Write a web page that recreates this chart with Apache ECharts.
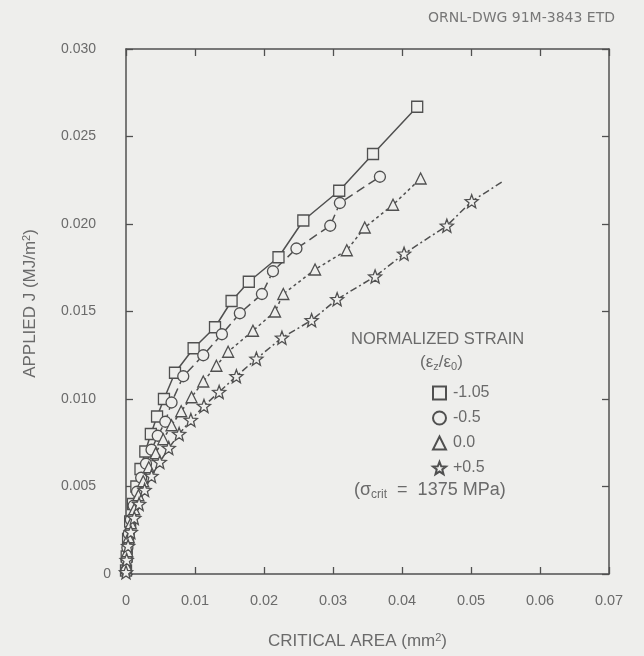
<!DOCTYPE html>
<html>
<head>
<meta charset="utf-8">
<script src="https://cdn.jsdelivr.net/npm/echarts@6/dist/echarts.min.js"></script>
<style>html,body{margin:0;padding:0;background:#eeeeec;}#c{width:644px;height:656px;}</style>
</head>
<body>
<div id="c"></div>
<script>
// ---- data (critical area mm^2, applied J MJ/m^2) ----
const xTickLabels = ['0', '0.01', '0.02', '0.03', '0.04', '0.05', '0.06', '0.07'];
const yTickLabels = ['0', '0.005', '0.010', '0.015', '0.020', '0.025', '0.030'];
const seriesNames = ['-1.05', '-0.5', '0.0', '+0.5'];

const squareData = [
  [0.0000, 0.0002], [0.0001, 0.0010], [0.0003, 0.0020], [0.0006, 0.0030], [0.0010, 0.0040],
  [0.0015, 0.0050], [0.0021, 0.0060], [0.0028, 0.0070], [0.0036, 0.0080], [0.0045, 0.0090],
  [0.0055, 0.0100], [0.0071, 0.0115], [0.0098, 0.0129], [0.0129, 0.0141], [0.0153, 0.0156],
  [0.0178, 0.0167], [0.0221, 0.0181], [0.0257, 0.0202], [0.0309, 0.0219], [0.0358, 0.0240],
  [0.0422, 0.0267]
];
const circleData = [
  [0.0000, 0.0002], [0.0001, 0.0008], [0.0002, 0.0015], [0.0004, 0.0023], [0.0007, 0.0031],
  [0.0011, 0.0039], [0.0016, 0.0047], [0.0022, 0.0055], [0.0029, 0.0063], [0.0037, 0.0071],
  [0.0046, 0.0079], [0.0057, 0.0087], [0.0066, 0.0098], [0.0083, 0.0113], [0.0112, 0.0125],
  [0.0139, 0.0137], [0.0165, 0.0149], [0.0197, 0.0160], [0.0213, 0.0173], [0.0247, 0.0186],
  [0.0296, 0.0199], [0.0310, 0.0212], [0.0368, 0.0227]
];
const triangleData = [
  [0.0000, 0.0005], [0.0002, 0.0013], [0.0004, 0.0021], [0.0007, 0.0029], [0.0012, 0.0037],
  [0.0018, 0.0045], [0.0025, 0.0053], [0.0033, 0.0061], [0.0043, 0.0069], [0.0054, 0.0077],
  [0.0066, 0.0085], [0.0080, 0.0093], [0.0095, 0.0101], [0.0112, 0.0110], [0.0131, 0.0119],
  [0.0148, 0.0127], [0.0184, 0.0139], [0.0216, 0.0150], [0.0228, 0.0160], [0.0274, 0.0174],
  [0.0320, 0.0185], [0.0346, 0.0198], [0.0387, 0.0211], [0.0427, 0.0226]
];
const starData = [
  [0.0000, 0.0001], [0.0001, 0.0008], [0.0003, 0.0016], [0.0007, 0.0024], [0.0012, 0.0032],
  [0.0019, 0.0040], [0.0027, 0.0048], [0.0037, 0.0056], [0.0049, 0.0064], [0.0062, 0.0072],
  [0.0077, 0.0080], [0.0094, 0.0088], [0.0113, 0.0096], [0.0135, 0.0104], [0.0160, 0.0113],
  [0.0189, 0.0123], [0.0226, 0.0135], [0.0269, 0.0145], [0.0306, 0.0157], [0.0361, 0.0170],
  [0.0403, 0.0183], [0.0465, 0.0199], [0.0501, 0.0213]
];
const starLineEnd = [0.0545, 0.0224];

// ---- style ----
const BG = '#eeeeec';
const INK = '#505050';
const TXT = '#6a6a6a';
const FONT = 'Liberation Sans';
const STAR = 'path://M12,1 L14.9,8.6 L23,9 L16.7,14 L18.8,22 L12,17.5 L5.2,22 L7.3,14 L1,9 L9.1,8.6 Z';

const chart = echarts.init(document.getElementById('c'), null, {renderer: 'canvas'});

function mkSeries(name, data, symbol, size, dash) {
  return {
    name: name, type: 'line', data: data, symbol: symbol, symbolSize: size,
    showAllSymbol: true, animation: false, z: 3,
    lineStyle: {color: INK, width: 1.5, type: dash},
    itemStyle: {color: BG, borderColor: INK, borderWidth: 1.3}
  };
}

const starAll = starData.map(p => p.slice()).concat([{value: starLineEnd, symbol: 'none'}]);

const axisLineStyle = {show: true, onZero: false, lineStyle: {color: INK, width: 1.5}};
const tickStyle = {show: true, inside: true, length: 7, lineStyle: {color: INK, width: 1.3}};
const xAxisCommon = {
  type: 'value', min: 0, max: 0.07, interval: 0.01,
  axisLine: axisLineStyle, axisTick: tickStyle, splitLine: {show: false}
};
const yAxisCommon = {
  type: 'value', min: 0, max: 0.03, interval: 0.005,
  axisLine: axisLineStyle, axisTick: tickStyle, splitLine: {show: false}
};
const supRich = {sup: {fontSize: 11, verticalAlign: 'top', padding: [0, 0, 8, 0], color: TXT, fontFamily: FONT}};

const option = {
  backgroundColor: BG,
  animation: false,
  grid: {left: 126, right: 35, top: 49, bottom: 82, containLabel: false},
  xAxis: [
    Object.assign({}, xAxisCommon, {
      position: 'bottom',
      name: 'CRITICAL AREA (mm{sup|2})', nameLocation: 'middle', nameGap: 58,
      nameTextStyle: {color: TXT, fontFamily: FONT, fontSize: 17, padding: [0, 20, 0, 0], rich: supRich},
      axisLabel: {color: TXT, fontFamily: FONT, fontSize: 14.5, margin: 19,
        formatter: (v) => xTickLabels[Math.round(v / 0.01)]}
    }),
    Object.assign({}, xAxisCommon, {position: 'top', axisLabel: {show: false}})
  ],
  yAxis: [
    Object.assign({}, yAxisCommon, {
      position: 'left',
      name: 'APPLIED J (MJ/m{sup|2})', nameLocation: 'middle', nameGap: 86, nameRotate: 90,
      nameTextStyle: {color: TXT, fontFamily: FONT, fontSize: 17, padding: [0, 0, 0, 16], rich: supRich},
      axisLabel: {color: TXT, fontFamily: FONT, fontSize: 14, margin: 13,
        formatter: (v) => {
          const i = Math.round(v / 0.005);
          return i === 0 ? '{z|' + yTickLabels[i] + '}' : '{a|' + yTickLabels[i] + '}';
        },
        rich: {
          a: {color: TXT, fontFamily: FONT, fontSize: 14, padding: [0, 17, 0, 0]},
          z: {color: TXT, fontFamily: FONT, fontSize: 14, padding: [0, 2, 0, 0]}
        }}
    }),
    Object.assign({}, yAxisCommon, {position: 'right', axisLabel: {show: false}})
  ],
  legend: {
    orient: 'vertical', left: 427, top: 380, itemGap: 9, itemWidth: 13, itemHeight: 13,
    selectedMode: false,
    textStyle: {color: TXT, fontFamily: FONT, fontSize: 16, padding: [0, 0, 0, 2]},
    data: [
      {name: seriesNames[0], icon: 'rect'},
      {name: seriesNames[1], icon: 'circle'},
      {name: seriesNames[2], icon: 'triangle'},
      {name: seriesNames[3], icon: STAR}
    ]
  },
  graphic: [
    {type: 'text', right: 29, top: 11, style: {text: 'ORNL-DWG 91M-3843 ETD', fill: '#777', font: '14px "DejaVu Sans"'}},
    {type: 'text', left: 351, top: 331, style: {text: 'NORMALIZED STRAIN', fill: TXT, font: '16.5px "Liberation Sans"'}},
    {type: 'text', left: 420, top: 354, style: {
      text: '(ε{sub|z}/ε{sub|0})', fill: TXT, font: '17px "Liberation Sans"',
      rich: {sub: {fontSize: 11, verticalAlign: 'bottom', padding: [9, 0, 0, 0], fill: TXT, fontFamily: FONT}}}},
    {type: 'text', left: 354, top: 481, style: {
      text: '(σ{sub|crit}  =  1375 MPa)', fill: TXT, font: '18px "Liberation Sans"',
      rich: {sub: {fontSize: 12, verticalAlign: 'bottom', padding: [9, 0, 0, 0], fill: TXT, fontFamily: FONT}}}}
  ],
  series: [
    mkSeries(seriesNames[0], squareData, 'rect', 11, 'solid'),
    mkSeries(seriesNames[1], circleData, 'circle', 11, [9, 5]),
    mkSeries(seriesNames[2], triangleData, 'triangle', 11, [3, 3]),
    mkSeries(seriesNames[3], starAll, STAR, 13, [7, 3, 2, 3])
  ]
};
chart.setOption(option);
</script>
</body>
</html>
